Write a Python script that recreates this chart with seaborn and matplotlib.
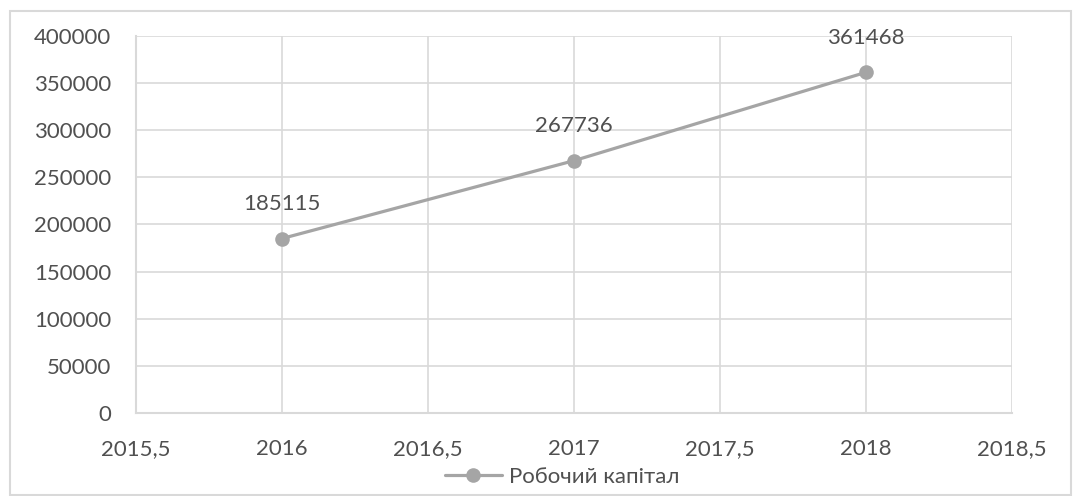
import matplotlib
matplotlib.use("Agg")
import matplotlib.pyplot as plt
from matplotlib.ticker import FuncFormatter, MultipleLocator
from matplotlib.patches import Rectangle
import seaborn as sns
import pandas as pd

years = [2016, 2017, 2018]
capital = [185115, 267736, 361468]
series_name = "Робочий капітал"

sns.set_theme(style="white")
plt.rcParams["font.family"] = ["Lato", "DejaVu Sans"]

df = pd.DataFrame({"year": years, "value": capital})

W, H = 1073, 496
fig = plt.figure(figsize=(W / 100, H / 100), dpi=100)
ax = fig.add_axes([136 / W, 1 - 413 / H, (1012 - 136) / W, (413 - 36) / H])

line_color = "#A5A5A5"
text_color = "#505050"
grid_color = "#D9D9D9"
fs = 16

sns.lineplot(data=df, x="year", y="value", ax=ax, color=line_color, linewidth=2.3,
             marker="o", markersize=10.5, markeredgewidth=0, label=series_name, zorder=3)

ax.set_xlim(2015.5, 2018.5)
ax.set_ylim(0, 400000)
ax.xaxis.set_major_locator(MultipleLocator(0.5))
ax.yaxis.set_major_locator(MultipleLocator(50000))
ax.xaxis.set_major_formatter(FuncFormatter(lambda v, p: (f"{v:g}").replace(".", ",")))
ax.yaxis.set_major_formatter(FuncFormatter(lambda v, p: f"{int(v)}"))
ax.grid(True, color=grid_color, linewidth=1.2)
ax.set_xlabel("")
ax.set_ylabel("")
for s in ["top", "right"]:
    ax.spines[s].set_visible(False)
for s in ["left", "bottom"]:
    ax.spines[s].set_color(grid_color)
    ax.spines[s].set_linewidth(1.5)
ax.tick_params(axis="both", length=0, labelsize=fs, colors=text_color)
ax.tick_params(axis="x", pad=19)
ax.tick_params(axis="y", pad=18)

for x, y in zip(years, capital):
    ax.annotate(str(y), (x, y), xytext=(0, 25), textcoords="offset points",
                ha="center", va="center", fontsize=fs, color=text_color)

leg = ax.legend(loc="center", bbox_to_anchor=(562 / W, 1 - 477 / H),
                bbox_transform=fig.transFigure, frameon=False,
                fontsize=fs, handlelength=2.6, handletextpad=0.3)
for t in leg.get_texts():
    t.set_color(text_color)

fig.patches.append(Rectangle((10 / W, 1 / H), 1061 / W, 484 / H,
                             transform=fig.transFigure, fill=False,
                             edgecolor="#D9D9D9", linewidth=1.5))

fig.savefig("out.png", dpi=100)
